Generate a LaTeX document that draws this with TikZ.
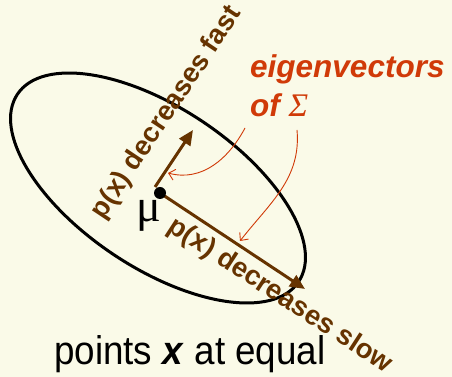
\documentclass[tikz,border=0pt]{standalone}
\usepackage{fontspec}
\setmainfont{Liberation Sans}
\newfontfamily\serifface{Liberation Serif}
\usetikzlibrary{arrows.meta}
\definecolor{bgc}{RGB}{250,250,232}
\definecolor{brn}{RGB}{102,51,0}
\definecolor{redc}{RGB}{208,58,8}
\tikzset{
  brarrow/.style={draw=brn, line width=3pt, -{Triangle[length=15pt,width=13pt]}},
  redarrow/.style={draw=redc, line width=0.9pt, -{Straight Barb[length=6pt,width=11pt]}},
  brtext/.style={text=brn, font=\fontsize{27.5}{30}\selectfont\bfseries, inner sep=0pt},
  redtext/.style={text=redc, font=\fontsize{31.5}{39}\selectfont\bfseries\itshape, inner sep=0pt, align=left}
}
\begin{document}
\begin{tikzpicture}[x=1pt,y=1pt]
\useasboundingbox (0,0) rectangle (452,377);
\fill[bgc] (0,0) rectangle (452,377);
% ellipse
\draw[line width=3pt, black, rotate around={-33.7:(158,189)}] (158,189) ellipse [x radius=169, y radius=80];
% coordinates
\coordinate (mu) at (160,184);
\coordinate (fs) at (155,190);
\coordinate (ft) at (193,247);
\coordinate (st) at (305,88);
% arrows
\draw[brarrow] (fs) -- (ft);
\draw[brarrow] (mu) -- (st);
\fill[black] (mu) circle (6);
\node[font=\serifface\fontsize{46}{46}\selectfont, anchor=base, inner sep=0pt] (mulab) at (149,155) {μ};
% texts
\node[brtext, rotate=56.3] (fast) at (167,264) {p(x) decreases fast};
\node[brtext, rotate=-33.1] (slow) at (280,81) {p(x) decreases slow};
\node[redtext, anchor=base west] (eig) at (250,260) {eigenvectors\\of {\serifface\mdseries\fontsize{33}{39}\selectfont Σ}};
\node[font=\fontsize{40}{40}\selectfont, anchor=base west, inner sep=0pt] (pts) at (54,12) {\scalebox{0.92}[1]{points \textbf{\textit{x}} at equal}};
% red connectors
\coordinate (r1s) at (245,249);
\coordinate (r1e) at (168,204);
\coordinate (r2s) at (297,247);
\coordinate (r2e) at (240,136);
\draw[redarrow] (r1s) to[out=-118,in=-15] (r1e);
\draw[redarrow] (r2s) to[out=-85,in=52] (r2e);
\end{tikzpicture}
\end{document}
